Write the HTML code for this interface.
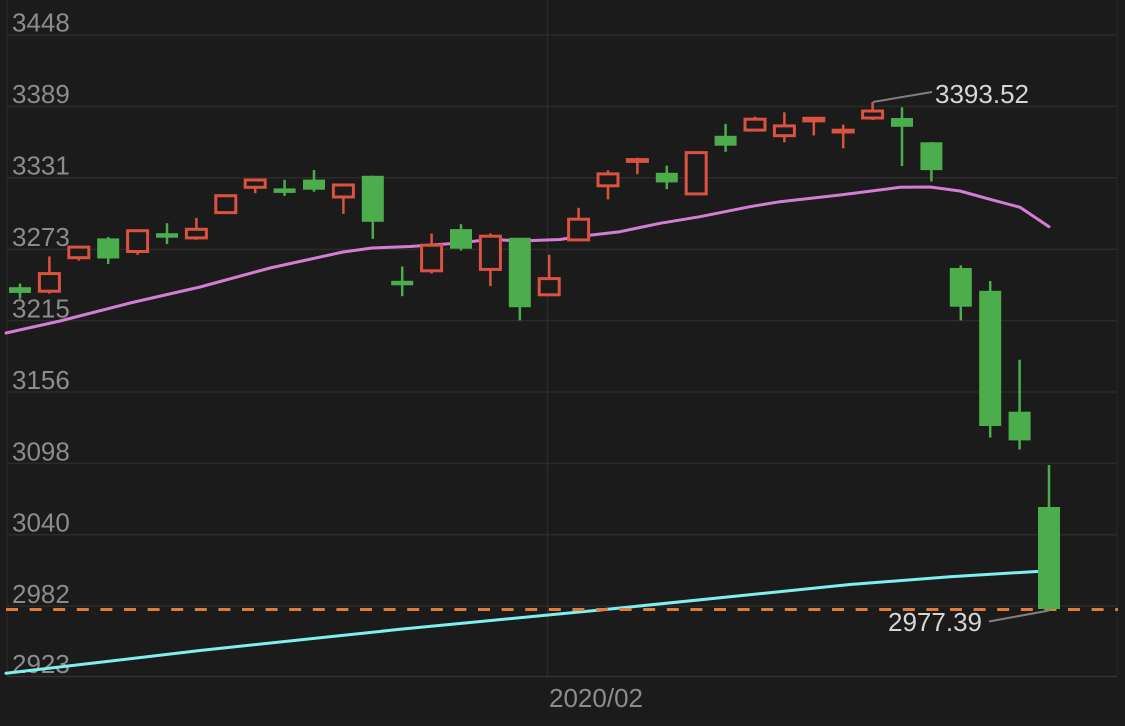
<!DOCTYPE html>
<html>
<head>
<meta charset="utf-8">
<style>
  html,body{margin:0;padding:0;background:#1b1b1b;}
  svg{display:block;}
  text{font-family:"Liberation Sans", Arial, sans-serif;}
</style>
</head>
<body>
<svg width="1125" height="726" viewBox="0 0 1125 726" xmlns="http://www.w3.org/2000/svg">
  <rect x="0" y="0" width="1125" height="726" fill="#1b1b1b"/>

  <line x1="7" y1="0" x2="7" y2="676" stroke="#262626" stroke-width="1.5"/>
  <line x1="1117" y1="0" x2="1117" y2="676" stroke="#232323" stroke-width="1.5"/>
  <line x1="547.5" y1="0" x2="547.5" y2="676" stroke="#2a2a2a" stroke-width="1.5"/>

  <g stroke="#2b2b2b" stroke-width="1.5">
    <line x1="7" y1="35" x2="1117" y2="35"/>
    <line x1="7" y1="106.4" x2="1117" y2="106.4"/>
    <line x1="7" y1="177.8" x2="1117" y2="177.8"/>
    <line x1="7" y1="249.4" x2="1117" y2="249.4"/>
    <line x1="7" y1="320.6" x2="1117" y2="320.6"/>
    <line x1="7" y1="392" x2="1117" y2="392"/>
    <line x1="7" y1="463.4" x2="1117" y2="463.4"/>
    <line x1="7" y1="534.8" x2="1117" y2="534.8"/>
    <line x1="7" y1="606" x2="1117" y2="606"/>
  </g>
  <line x1="7" y1="676.5" x2="1117" y2="676.5" stroke="#333333" stroke-width="1.5"/>

  <g fill="#8c8c8c" font-size="26">
    <text x="12" y="31.5">3448</text>
    <text x="12" y="103">3389</text>
    <text x="12" y="174.5">3331</text>
    <text x="12" y="246">3273</text>
    <text x="12" y="317.5">3215</text>
    <text x="12" y="389">3156</text>
    <text x="12" y="460.5">3098</text>
    <text x="12" y="531.5">3040</text>
    <text x="12" y="603">2982</text>
    <text x="12" y="673">2923</text>
  </g>

  <text x="549" y="707" fill="#8c8c8c" font-size="26">2020/02</text>

  <polyline fill="none" stroke="#d47dd6" stroke-width="3" stroke-linejoin="round" stroke-linecap="round"
    points="6,333 60,321 130,303 200,287 270,268 343,252 372,248 410,246.5 460,243 490,239.3 520,241 560,239.5 583,236 620,231.7 660,223.3 700,216.7 750,206.7 780,201.7 840,195 900,187.3 930,187 960,191 990,199.3 1020,207.3 1049,226.7"/>
  <polyline fill="none" stroke="#7ef0f2" stroke-width="3" stroke-linejoin="round" stroke-linecap="round"
    points="6,673.3 200,650.5 400,629.3 600,610 850,584.5 950,576.7 1049,570.7"/>

  <line x1="6" y1="609.5" x2="1118" y2="609.5" stroke="#dd7d38" stroke-width="3" stroke-dasharray="12 11.6"/>

  <g fill="#4cad4c" stroke="#4cad4c">
    <line x1="20" y1="283.5" x2="20" y2="298.7" stroke-width="2.5"/>
    <rect x="9" y="287.2" width="22" height="5.7" stroke="none"/>
    <line x1="108.2" y1="237" x2="108.2" y2="264" stroke-width="2.5"/>
    <rect x="97.2" y="238.4" width="22" height="20.1" stroke="none"/>
    <line x1="167" y1="223.2" x2="167" y2="244.1" stroke-width="2.5"/>
    <rect x="156" y="233.2" width="22" height="4.5" stroke="none"/>
    <line x1="284.6" y1="179.8" x2="284.6" y2="195.9" stroke-width="2.5"/>
    <rect x="273.6" y="188.4" width="22" height="4.5" stroke="none"/>
    <line x1="314" y1="170.1" x2="314" y2="191.7" stroke-width="2.5"/>
    <rect x="303" y="179.6" width="22" height="10.1" stroke="none"/>
    <line x1="372.8" y1="175.7" x2="372.8" y2="238.8" stroke-width="2.5"/>
    <rect x="361.8" y="175.8" width="22" height="46" stroke="none"/>
    <line x1="402.2" y1="266.5" x2="402.2" y2="296.2" stroke-width="2.5"/>
    <rect x="391.2" y="280.8" width="22" height="4.5" stroke="none"/>
    <line x1="461" y1="224.2" x2="461" y2="250.5" stroke-width="2.5"/>
    <rect x="450" y="229.1" width="22" height="19.6" stroke="none"/>
    <line x1="519.8" y1="237.8" x2="519.8" y2="320.4" stroke-width="2.5"/>
    <rect x="508.8" y="237.8" width="22" height="69.4" stroke="none"/>
    <line x1="666.8" y1="165.6" x2="666.8" y2="189.2" stroke-width="2.5"/>
    <rect x="655.8" y="172.8" width="22" height="9.6" stroke="none"/>
    <line x1="725.6" y1="123.9" x2="725.6" y2="151.8" stroke-width="2.5"/>
    <rect x="714.6" y="135.8" width="22" height="9.9" stroke="none"/>
    <line x1="902" y1="107.3" x2="902" y2="166.1" stroke-width="2.5"/>
    <rect x="891" y="118" width="22" height="8.8" stroke="none"/>
    <line x1="931.4" y1="142" x2="931.4" y2="181.5" stroke-width="2.5"/>
    <rect x="920.4" y="142.3" width="22" height="27.8" stroke="none"/>
    <line x1="960.8" y1="265.3" x2="960.8" y2="320.4" stroke-width="2.5"/>
    <rect x="949.8" y="268" width="22" height="38.7" stroke="none"/>
    <line x1="990.2" y1="281" x2="990.2" y2="437.5" stroke-width="2.5"/>
    <rect x="979.2" y="290.8" width="22" height="135.2" stroke="none"/>
    <line x1="1019.6" y1="359.7" x2="1019.6" y2="449.5" stroke-width="2.5"/>
    <rect x="1008.6" y="411.7" width="22" height="28.7" stroke="none"/>
    <line x1="1049" y1="465" x2="1049" y2="610.5" stroke-width="2.5"/>
    <rect x="1038" y="507" width="22" height="102" stroke="none"/>
  </g>

  <g stroke="#dc5241" fill="#1b1b1b">
    <line x1="49.4" y1="256.4" x2="49.4" y2="293.6" stroke-width="2.5"/>
    <rect x="39.4" y="273.6" width="20" height="17.6" stroke-width="3"/>
    <line x1="78.8" y1="246" x2="78.8" y2="260.6" stroke-width="2.5"/>
    <rect x="68.8" y="247.1" width="20" height="10.6" stroke-width="3"/>
    <line x1="137.6" y1="230.7" x2="137.6" y2="254.8" stroke-width="2.5"/>
    <rect x="127.6" y="230.7" width="20" height="20.8" stroke-width="3"/>
    <line x1="196.4" y1="217.9" x2="196.4" y2="239.8" stroke-width="2.5"/>
    <rect x="186.4" y="229.3" width="20" height="8.6" stroke-width="3"/>
    <line x1="225.8" y1="195.3" x2="225.8" y2="212.8" stroke-width="2.5"/>
    <rect x="215.8" y="195.7" width="20" height="16.9" stroke-width="3"/>
    <line x1="255.2" y1="179.7" x2="255.2" y2="193.2" stroke-width="2.5"/>
    <rect x="245.2" y="180" width="20" height="7.3" stroke-width="3"/>
    <line x1="343.4" y1="183.4" x2="343.4" y2="213.9" stroke-width="2.5"/>
    <rect x="333.4" y="185" width="20" height="12" stroke-width="3"/>
    <line x1="431.6" y1="233.6" x2="431.6" y2="273.4" stroke-width="2.5"/>
    <rect x="421.6" y="245.2" width="20" height="25.6" stroke-width="3"/>
    <line x1="490.4" y1="233.4" x2="490.4" y2="286.1" stroke-width="2.5"/>
    <rect x="480.4" y="236.2" width="20" height="33.2" stroke-width="3"/>
    <line x1="549.2" y1="254.8" x2="549.2" y2="294.8" stroke-width="2.5"/>
    <rect x="539.2" y="278.6" width="20" height="16.2" stroke-width="3"/>
    <line x1="578.6" y1="207.8" x2="578.6" y2="239.9" stroke-width="2.5"/>
    <rect x="568.6" y="219.2" width="20" height="20.7" stroke-width="3"/>
    <line x1="608" y1="170.3" x2="608" y2="199.4" stroke-width="2.5"/>
    <rect x="598" y="173.9" width="20" height="11.9" stroke-width="3"/>
    <line x1="637.4" y1="157.7" x2="637.4" y2="174.2" stroke-width="2.5"/>
    <rect x="627.4" y="159.6" width="20" height="1.8" stroke-width="3"/>
    <line x1="696.2" y1="152.4" x2="696.2" y2="194.5" stroke-width="2.5"/>
    <rect x="686.2" y="152.6" width="20" height="41.3" stroke-width="3"/>
    <line x1="755" y1="116.7" x2="755" y2="131.1" stroke-width="2.5"/>
    <rect x="745" y="119.2" width="20" height="10.9" stroke-width="3"/>
    <line x1="784.4" y1="112.3" x2="784.4" y2="142.3" stroke-width="2.5"/>
    <rect x="774.4" y="125.9" width="20" height="9.8" stroke-width="3"/>
    <line x1="813.8" y1="117.7" x2="813.8" y2="135.4" stroke-width="2.5"/>
    <rect x="803.8" y="118.3" width="20" height="2.6" stroke-width="3"/>
    <line x1="843.2" y1="124.6" x2="843.2" y2="148.3" stroke-width="2.5"/>
    <rect x="833.2" y="130.2" width="20" height="1.8" stroke-width="3"/>
    <line x1="872.6" y1="102" x2="872.6" y2="120" stroke-width="2.5"/>
    <rect x="862.6" y="111" width="20" height="7" stroke-width="3"/>
  </g>

  <line x1="873" y1="102" x2="932" y2="92" stroke="#808080" stroke-width="2"/>
  <text x="935" y="103" fill="#d6d6d6" font-size="26">3393.52</text>
  <line x1="989" y1="621.5" x2="1049" y2="610.5" stroke="#808080" stroke-width="2"/>
  <text x="888" y="631" fill="#d6d6d6" font-size="26">2977.39</text>
</svg>
</body>
</html>
